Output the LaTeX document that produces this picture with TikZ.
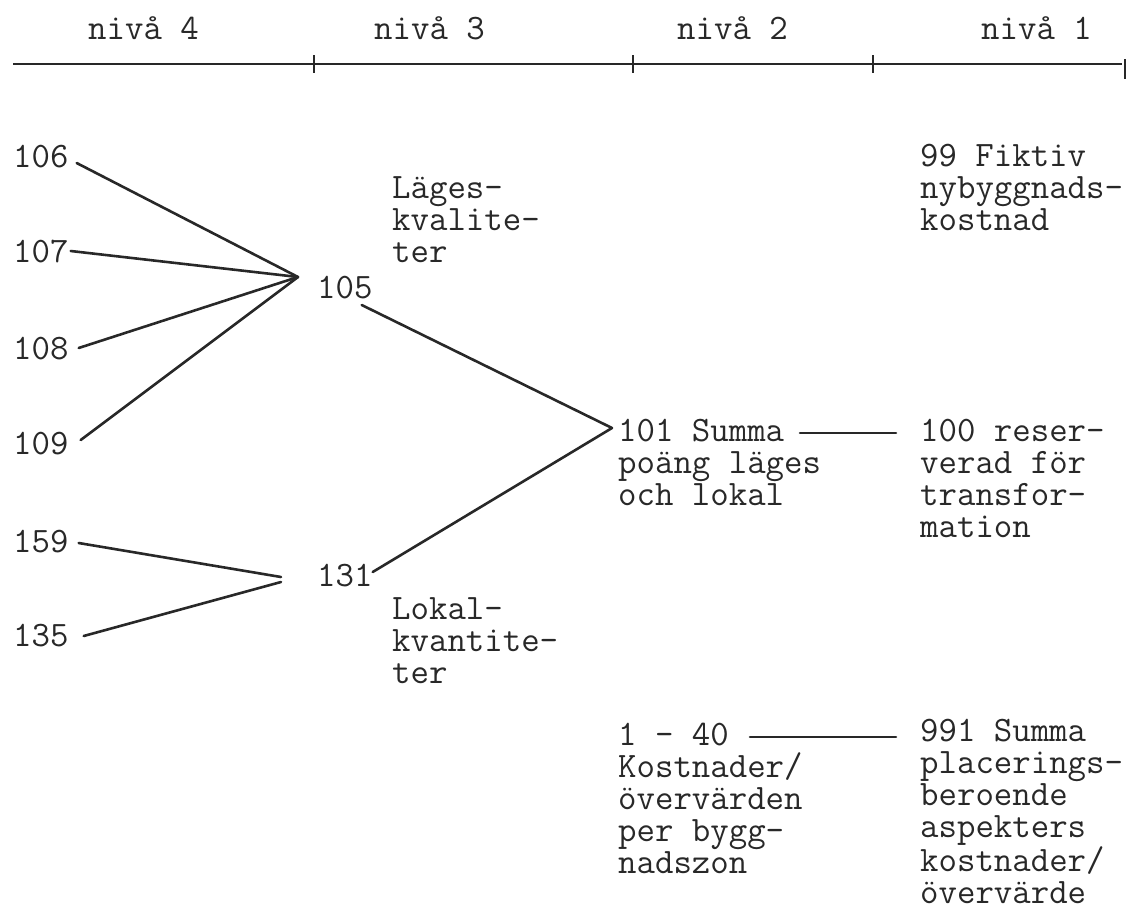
\documentclass[tikz,border=0pt]{standalone}
\usepackage{fontspec}
\usetikzlibrary{calc}
\definecolor{ink}{RGB}{40,40,40}
\begin{document}
\begin{tikzpicture}[x=1pt,y=-1pt,
  lbl/.style={font=\ttfamily\fontsize{35.8}{32}\selectfont, text=ink, inner sep=0pt, anchor=base west, align=left},
  conn/.style={draw=ink, line width=2.6pt, line cap=round},
  axis/.style={draw=ink, line width=1.8pt}]
\useasboundingbox (0,0) rectangle (1133,910);
% header
\node[lbl] (h4) at (88,39) {nivå 4};
\node[lbl] (h3) at (374,39) {nivå 3};
\node[lbl] (h2) at (677,39) {nivå 2};
\node[lbl] (h1) at (981,39) {nivå 1};
\coordinate (axL) at (13,64);
\coordinate (axR) at (1122,64);
\coordinate (t1) at (314,64);
\coordinate (t2) at (633,64);
\coordinate (t3) at (873,64);
\draw[axis] (axL) -- (axR);
\draw[axis] ($(t1)+(0,-9)$) -- ($(t1)+(0,9)$);
\draw[axis] ($(t2)+(0,-9)$) -- ($(t2)+(0,9)$);
\draw[axis] ($(t3)+(0,-9)$) -- ($(t3)+(0,9)$);
\draw[axis] ($(axR)+(3,-5)$) -- ($(axR)+(3,15)$);
% level 4
\node[lbl] (n106) at (13,167) {106};
\node[lbl] (n107) at (13,262) {107};
\node[lbl] (n108) at (13,359) {108};
\node[lbl] (n109) at (13,454) {109};
\node[lbl] (n159) at (13,552) {159};
\node[lbl] (n135) at (13,646) {135};
% level 3 (multi-line nodes: base = last line)
\node[lbl] (n105) at (317,298) {105};
\node[lbl] (t105) at (392,262) {Läges-\\kvalite-\\ter};
\node[lbl] (n131) at (317,586) {131};
\node[lbl] (t131) at (392,683) {Lokal-\\kvantite-\\ter};
% level 2
\node[lbl] (n101) at (618,505) {101 Summa\\poäng läges\\och lokal};
\node[lbl] (n140) at (618,873) {1 - 40\\Kostnader/\\övervärden\\per bygg-\\nadszon};
% level 1
\node[lbl] (n99) at (920,230) {99 Fiktiv\\nybyggnads-\\kostnad};
\node[lbl] (n100) at (920,537) {100 reser-\\verad för\\transfor-\\mation};
\node[lbl] (n991) at (920,903) {991 Summa\\placerings-\\beroende\\aspekters\\kostnader/\\övervärde};
% junctions
\coordinate (j105) at (298,277);
\coordinate (j101) at (612,428);
\coordinate (j131a) at (281,577);
\coordinate (j131b) at (281,582);
% connectors
\draw[conn] ($(n106.base east)+(8,-4)$) -- (j105);
\draw[conn] ($(n107.base east)+(2,-11)$) -- (j105);
\draw[conn] ($(n108.base east)+(10,-11)$) -- (j105);
\draw[conn] ($(n109.base east)+(12,-14)$) -- (j105);
\draw[conn] ($(n159.base east)+(10,-9)$) -- (j131a);
\draw[conn] ($(n135.base east)+(15,-10)$) -- (j131b);
\draw[conn] ($(n105.base east)+(-11,7)$) -- (j101);
\draw[conn] ($(n131.base east)+(0,-14)$) -- (j101);
\draw[conn] ($(n101.base west)+(182,-72)$) -- ($(n100.base west)+(-24,-104)$);
\draw[conn] ($(n140.base west)+(132,-136)$) -- ($(n991.base west)+(-24,-166)$);
\end{tikzpicture}
\end{document}
